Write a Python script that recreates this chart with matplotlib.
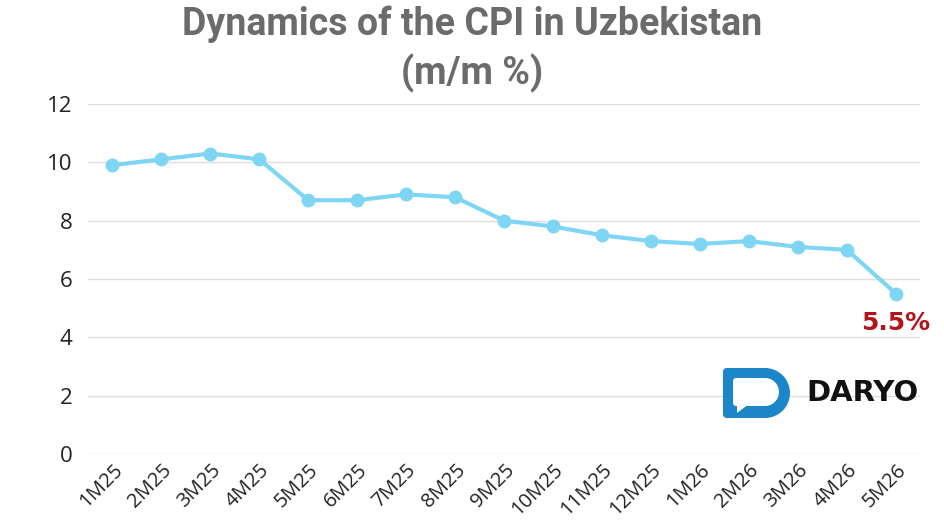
import numpy as np
import matplotlib.pyplot as plt
from matplotlib.patches import FancyBboxPatch, Polygon, Rectangle, Circle

# Monthly CPI values (m/m %)
months = ["1M25", "2M25", "3M25", "4M25", "5M25", "6M25", "7M25", "8M25", "9M25",
          "10M25", "11M25", "12M25", "1M26", "2M26", "3M26", "4M26", "5M26"]
cpi = [9.9, 10.1, 10.3, 10.1, 8.7, 8.7, 8.9, 8.8, 8.0,
       7.8, 7.5, 7.3, 7.2, 7.3, 7.1, 7.0, 5.5]
yticks = [0, 2, 4, 6, 8, 10, 12]

line_color = "#7fd6f4"
x = np.arange(len(months))

plt.rcParams["font.family"] = ["Open Sans", "DejaVu Sans"]

fig = plt.figure(figsize=(9.45, 5.3), dpi=100)
ax = fig.add_axes([0.093, 0.143, 0.881, 0.661])

ax.plot(x, cpi, color=line_color, linewidth=3, marker="o", markersize=9,
        solid_capstyle="round", zorder=3)

ax.set_xlim(-0.5, len(months) - 0.5)
ax.set_ylim(0, 12)
ax.set_yticks(yticks)
ax.set_xticks(x)
ax.set_xticklabels(months, rotation=45, ha="right", rotation_mode="anchor",
                   fontsize=14.5, color="#222222")
ax.tick_params(axis="y", labelsize=16, colors="#222222", length=0, pad=11)
ax.tick_params(axis="x", length=0, pad=4)
ax.grid(axis="y", color="#dedede", linewidth=1)
ax.set_axisbelow(True)
for s in ax.spines.values():
    s.set_visible(False)

# last value label
ax.annotate(f"{cpi[-1]}%", (x[-1], cpi[-1]), xytext=(0, -21), textcoords="offset points",
            ha="center", va="center", fontsize=18, fontweight="bold", color="#b3141c",
            family="DejaVu Sans")

fig.text(0.5, 0.955, "Dynamics of the CPI in Uzbekistan", ha="center", va="center",
         fontsize=27, fontweight="bold", color="#6b6b6b", family="Roboto")
fig.text(0.5, 0.862, "(m/m %)", ha="center", va="center",
         fontsize=27, fontweight="bold", color="#6b6b6b", family="Roboto")

# DARYO logo, drawn on an overlay in pixel units
lg = fig.add_axes([0, 0, 1, 1], zorder=5)
lg.set_xlim(0, 945)
lg.set_ylim(530, 0)
lg.axis("off")
lg.patch.set_alpha(0)
blue = "#1b86c8"
lg.add_patch(FancyBboxPatch((723, 368), 42, 50, boxstyle="round,pad=0,rounding_size=4",
                            facecolor=blue, edgecolor="none"))
lg.add_patch(Circle((765, 393), 25, facecolor=blue, edgecolor="none"))
lg.add_patch(FancyBboxPatch((733, 378), 32, 28, boxstyle="round,pad=0,rounding_size=3",
                            facecolor="white", edgecolor="none"))
lg.add_patch(Circle((765, 392), 14, facecolor="white", edgecolor="none"))
lg.add_patch(Polygon([[737, 404], [749, 404], [737, 413]], closed=True,
                     facecolor="white", edgecolor="none"))
lg.text(806, 393, "DARYO", ha="left", va="center", fontsize=21,
        fontweight="bold", color="#111111", family="DejaVu Sans")

plt.savefig("out.png", dpi=100)
